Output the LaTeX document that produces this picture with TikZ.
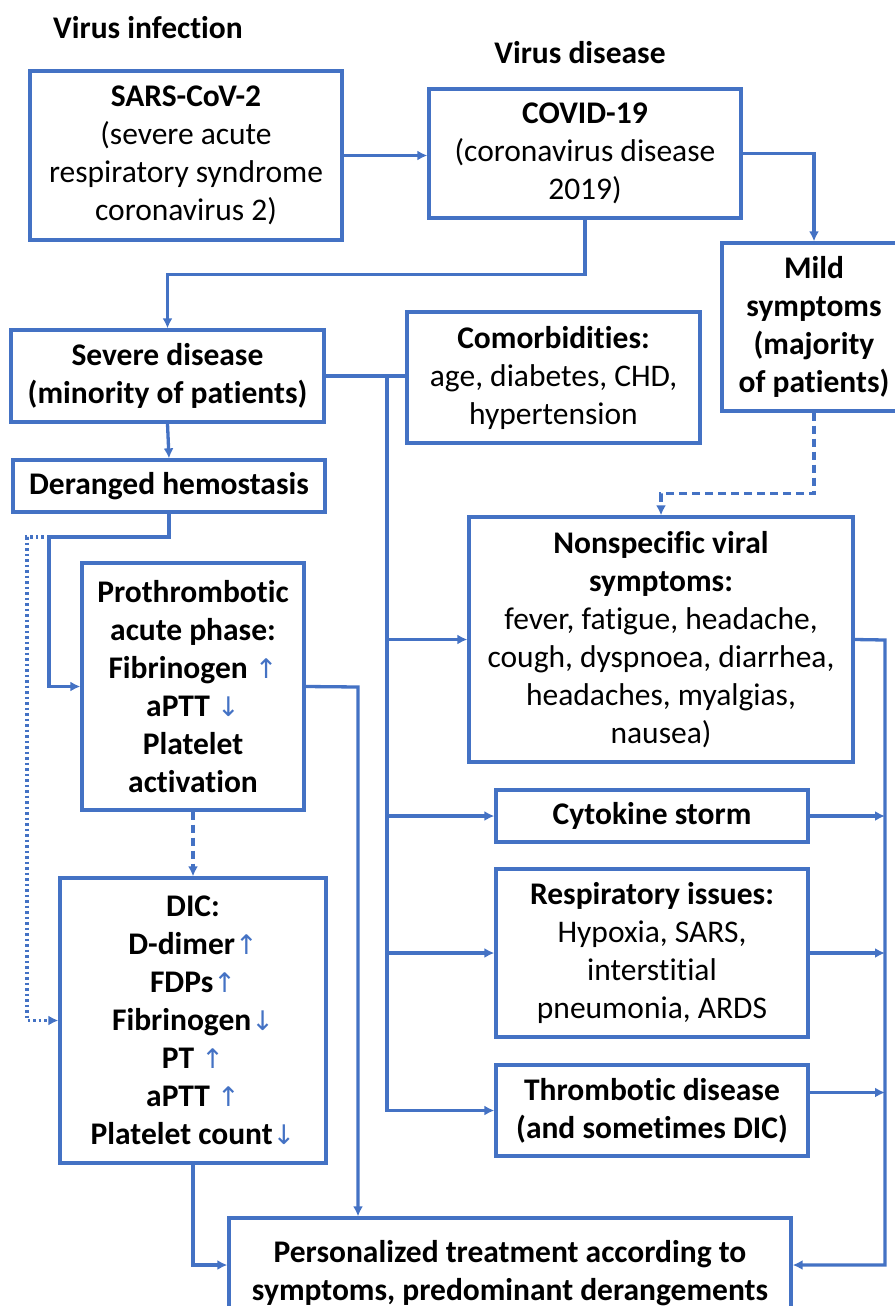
\documentclass[tikz,border=0pt]{standalone}
\usepackage{fontspec}
\setmainfont{Carlito}[Ligatures=NoCommon]
\newfontfamily\arrowfont{DejaVu Sans}
\usetikzlibrary{arrows.meta,positioning}
\definecolor{lineblue}{RGB}{68,114,196}

\tikzset{
	box/.style={draw=lineblue, line width=3.3pt, align=center, inner sep=0pt, font=\fontsize{31.5}{38}\selectfont},
	boldbox/.style={box, font=\fontsize{31.5}{38}\selectfont\bfseries},
	link/.style={draw=lineblue, line width=3.3pt},
	arr/.style={link, -{Latex[length=10pt,width=10pt]}},
	dasharr/.style={arr, dash pattern=on 8pt off 5pt},
	dotarr/.style={arr, dash pattern=on 2.5pt off 3pt},
	title/.style={font=\fontsize{31.5}{38}\selectfont\bfseries}
}
\newcommand{\arrup}{{\arrowfont\fontsize{27}{38}\selectfont\mdseries\textcolor{lineblue}{↑}}}
\newcommand{\arrdown}{{\arrowfont\fontsize{27}{38}\selectfont\mdseries\textcolor{lineblue}{↓}}}

\begin{document}
\begin{tikzpicture}[x=1pt,y=-1pt]
	\useasboundingbox (0,0) rectangle (894,1306);
	
	\node[title] (infect) at (148,28) {Virus infection};
	\node[title] (disease) at (580,53) {Virus disease};
	
	\node[box, minimum width=312pt, minimum height=169pt] (sars) at (186,155.5) {\textbf{SARS-CoV-2}\\(severe acute\\respiratory syndrome\\coronavirus 2)};
	\node[box, minimum width=312pt, minimum height=129pt] (covid) at (585,153.5) {\textbf{COVID-19}\\(coronavirus disease\\2019)};
	\node[boldbox, minimum width=184pt, minimum height=168pt] (mild) at (814,327) {Mild\\symptoms\\(majority\\of patients)};
	\node[boldbox, minimum width=313pt, minimum height=92pt] (severe) at (167.5,376) {Severe disease\\(minority of patients)};
	\node[box, minimum width=293pt, minimum height=131pt] (comorb) at (553.5,377.5) {\textbf{Comorbidities:}\\age, diabetes, CHD,\\hypertension};
	\node[boldbox, minimum width=312pt, minimum height=52pt] (deranged) at (169,486) {Deranged hemostasis};
	
	\node[boldbox, minimum width=222pt, minimum height=247pt] (prothr) at (193,686.5) {Prothrombotic\\acute phase:\\Fibrinogen \arrup\\aPTT \arrdown\\Platelet\\activation};
	\node[boldbox, minimum width=266pt, minimum height=285pt] (dic) at (193,1020.5) {DIC:\\D-dimer\arrup\\FDPs\arrup\\Fibrinogen\arrdown\\PT \arrup\\aPTT \arrup\\Platelet count\arrdown};
	
	\node[box, minimum width=384pt, minimum height=245pt] (nonspec) at (661,639.5) {\textbf{Nonspecific viral}\\\textbf{symptoms:}\\fever, fatigue, headache,\\cough, dyspnoea, diarrhea,\\headaches, myalgias,\\nausea)};
	\node[boldbox, minimum width=312pt, minimum height=52pt] (cytok) at (652,816) {Cytokine storm};
	\node[box, minimum width=312pt, minimum height=168pt] (resp) at (652,953) {\textbf{Respiratory issues:}\\Hypoxia, SARS,\\interstitial\\pneumonia, ARDS};
	\node[boldbox, minimum width=312pt, minimum height=91pt] (thromb) at (652,1110.5) {Thrombotic disease\\(and sometimes DIC)};
	
	\node[boldbox, minimum width=562pt, minimum height=110pt] (treat) at (510,1273) {Personalized treatment according to\\symptoms, predominant derangements};
	
	\coordinate (lbus) at (387,376);
	\coordinate (rbus) at (885,640);
	\coordinate (pbus) at (358,687);
	\coordinate (dsplit) at (49,537);
	\coordinate (dleft) at (27,537);
	
	\draw[arr] (sars.east) -- (sars.east -| covid.west);
	\draw[arr] (covid.east) -| (mild.north);
	\draw[arr] (covid.south) -- ++(0,55) -| (severe.north);
	\draw[arr] (severe.south) -- (deranged.north);
	\draw[link] (severe.east) -- (severe.east -| comorb.west);
	\draw[arr] (lbus) |- (nonspec.west);
	\draw[arr] (lbus) |- (cytok.west);
	\draw[arr] (lbus) |- (resp.west);
	\draw[arr] (lbus) |- (thromb.west);
	\draw[dasharr] (mild.south) -- ++(0,81) -| (nonspec.north);
	
	\draw[arr] (deranged.south) |- (dsplit) |- (prothr.west);
	\draw[dotarr] (dsplit) -- (dleft) |- (dic.west);
	\draw[dasharr] (prothr.south) -- (dic.north);
	\draw[arr] (prothr.east) -- (pbus) -- (pbus |- treat.north);
	\draw[arr] (dic.south) |- ([yshift=8pt]treat.west);
	
	\draw[arr] (nonspec.east) -- (rbus) |- ([yshift=8pt]treat.east);
	\draw[arr] (cytok.east) -- (cytok.east -| rbus);
	\draw[arr] (resp.east) -- (resp.east -| rbus);
	\draw[arr] ([yshift=18pt]thromb.east) -- ([yshift=18pt]thromb.east -| rbus);
\end{tikzpicture}
\end{document}
